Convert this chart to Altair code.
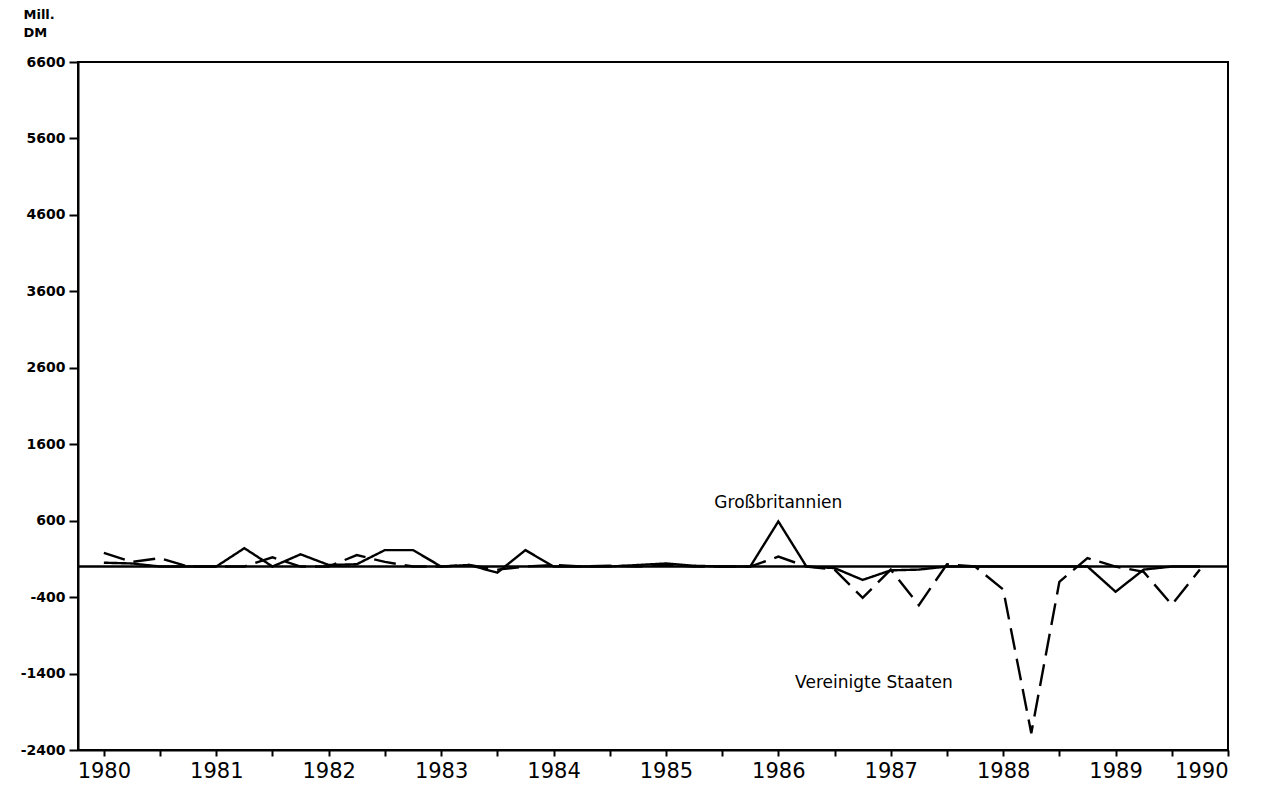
import altair as alt
import pandas as pd

quarters = [1980.0, 1980.25, 1980.5, 1980.75, 1981.0, 1981.25, 1981.5, 1981.75,
            1982.0, 1982.25, 1982.5, 1982.75, 1983.0, 1983.25, 1983.5, 1983.75,
            1984.0, 1984.25, 1984.5, 1984.75, 1985.0, 1985.25, 1985.5, 1985.75,
            1986.0, 1986.25, 1986.5, 1986.75, 1987.0, 1987.25, 1987.5, 1987.75,
            1988.0, 1988.25, 1988.5, 1988.75, 1989.0, 1989.25, 1989.5, 1989.75]

gb = [50, 40, 0, 0,
      0, 240, 0, 160,
      20, 30, 215, 215,
      0, 20, -80, 215,
      0, 0, 0, 20,
      40, 10, 0, 0,
      590, 0, -20, -175,
      -50, -40, 0, 0,
      0, 0, 0, 0,
      -330, -40, 0, 0]

us = [180, 60, 110, 0,
      0, 0, 120, 0,
      0, 150, 60, 0,
      0, 20, -40, 0,
      20, 0, 10, 0,
      20, 0, 0, 0,
      130, 0, -40, -410,
      -40, -505, 30, 0,
      -300, -2180, -200, 110,
      0, -70, -500, -40]

x_ticks = [1980 + i * 0.25 for i in range(41)]
y_ticks = [-2400, -1400, -400, 600, 1600, 2600, 3600, 4600, 5600, 6600]

labels = ["Großbritannien", "Vereinigte Staaten"]
label_x = [1986.0, 1986.85]
label_y = [830, -1520]

FONT = "DejaVu Sans"

df = pd.DataFrame({
    "t": quarters * 2,
    "v": gb + us,
    "land": ["Großbritannien"] * len(gb) + ["Vereinigte Staaten"] * len(us),
})
lab = pd.DataFrame({"t": label_x, "v": label_y, "text": labels})
zero = pd.DataFrame({"v": [0]})

xscale = alt.Scale(domain=[1979.77, 1990], nice=False, zero=False)
yscale = alt.Scale(domain=[-2400, 6600], nice=False, zero=False)

xaxis = alt.Axis(values=x_ticks,
                 labelExpr="datum.value % 1 === 0 ? toString(datum.value) : ''",
                 title=None, grid=False, tickSize=6, tickWidth=2, domainWidth=2,
                 domainColor="black", tickColor="black", labelColor="black",
                 labelFont=FONT, labelFontSize=21, labelPadding=4)
yaxis = alt.Axis(values=y_ticks, labelExpr="toString(datum.value)",
                 title=["Mill.", "DM"], titleAngle=0,
                 titleAlign="left", titleBaseline="top", titleX=-55, titleY=-54,
                 titleFont=FONT, titleFontSize=13, titleFontWeight="bold",
                 titleLineHeight=18, titleColor="black",
                 grid=False, tickSize=9, tickWidth=2, domainWidth=2,
                 domainColor="black", tickColor="black", labelColor="black",
                 labelFont=FONT, labelFontSize=14, labelFontWeight="bold",
                 labelPadding=4)

lines = alt.Chart(df).mark_line(color="black", strokeWidth=2.4).encode(
    x=alt.X("t:Q", scale=xscale, axis=xaxis),
    y=alt.Y("v:Q", scale=yscale, axis=yaxis),
    strokeDash=alt.StrokeDash("land:N", scale=alt.Scale(
        domain=["Großbritannien", "Vereinigte Staaten"],
        range=[[1, 0], [22, 9]]), legend=None),
)

rule = alt.Chart(zero).mark_rule(color="black", strokeWidth=2.4).encode(
    y=alt.Y("v:Q", scale=yscale)
)

text = alt.Chart(lab).mark_text(font=FONT, fontSize=17, color="black",
                                align="center", baseline="middle").encode(
    x=alt.X("t:Q", scale=xscale),
    y=alt.Y("v:Q", scale=yscale),
    text="text:N",
)

chart = alt.layer(rule, lines, text).properties(
    width=1150, height=688,
    background="white",
    autosize=alt.AutoSizeParams(type="none"),
    padding={"left": 70, "top": 54, "right": 40, "bottom": 37},
).configure_view(stroke="black", strokeWidth=2)

chart.save("out.html", embed_options={"renderer": "svg", "actions": False})
